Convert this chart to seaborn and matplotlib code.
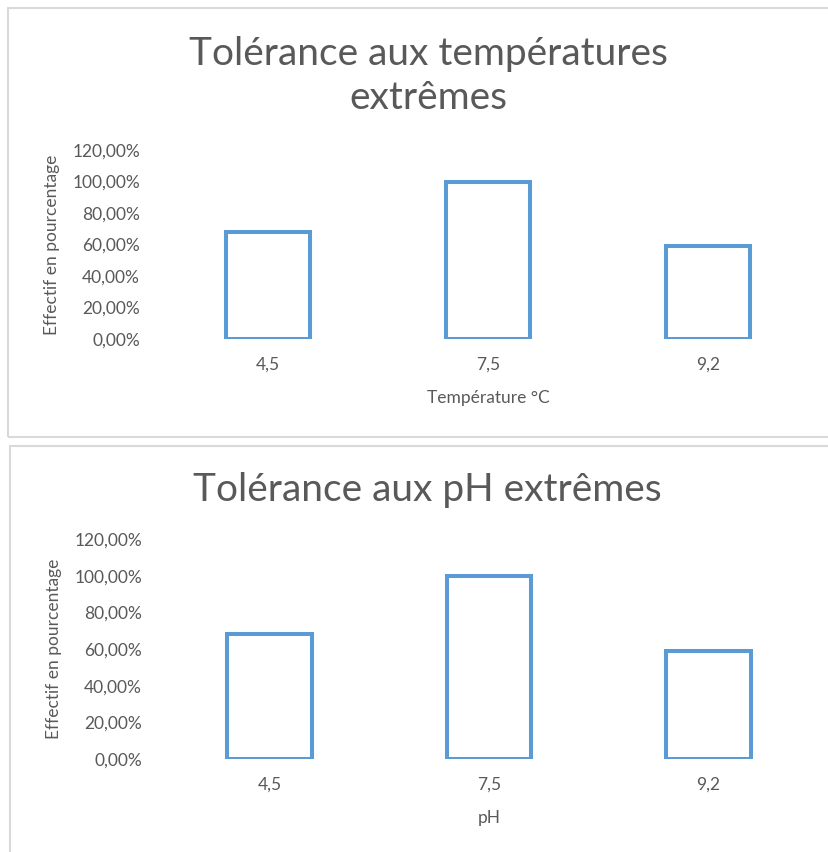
import matplotlib.pyplot as plt
import pandas as pd
import seaborn as sns
from matplotlib.patches import Rectangle

# values
categories = ["4,5", "7,5", "9,2"]
temperature_values = [0.68, 1.00, 0.59]
ph_values = [0.68, 1.00, 0.59]
y_ticks = [0.0, 0.2, 0.4, 0.6, 0.8, 1.0, 1.2]

BAR_COLOR = "#5b9bd5"
TEXT_COLOR = "#595959"
BORDER_COLOR = "#d9d9d9"


def pct_label(v: float) -> str:
    return f"{v * 100:.2f}%".replace(".", ",")


def draw_panel(fig, rect, values, title, xlabel, title_xy):
    ax = fig.add_axes(rect)
    data = pd.DataFrame({"cat": categories, "value": values})
    sns.barplot(
        data=data, x="cat", y="value", ax=ax, fill=False,
        color=BAR_COLOR, linewidth=2.9, width=0.385, errorbar=None,
    )
    for patch in ax.patches:
        patch.set_edgecolor(BAR_COLOR)
    ax.set_ylim(0, 1.2)
    ax.set_xlim(-0.5, 2.5)
    ax.set_yticks(y_ticks)
    ax.set_yticklabels([pct_label(v) for v in y_ticks])
    ax.tick_params(axis="y", length=0, pad=13, labelsize=12.5, labelcolor=TEXT_COLOR)
    ax.tick_params(axis="x", length=0, pad=13, labelsize=12.5, labelcolor=TEXT_COLOR)
    ax.set_xlabel(xlabel, fontsize=12.5, color=TEXT_COLOR, labelpad=12)
    ax.set_ylabel("Effectif en pourcentage", fontsize=12.5, color=TEXT_COLOR, labelpad=9)
    sns.despine(ax=ax, left=True, bottom=True)
    ax.set_facecolor("none")
    fig.text(title_xy[0], title_xy[1], title, ha="center", va="center",
             fontsize=28, color=TEXT_COLOR, linespacing=1.3)
    return ax


sns.set_theme(style="white")
plt.rcParams["font.family"] = ["Lato", "DejaVu Sans"]

W, H = 829, 852
fig = plt.figure(figsize=(W / 100, H / 100), dpi=100)
fig.patch.set_facecolor("white")

# chart frames
fig.add_artist(Rectangle((8 / W, 1 - 437 / H), (W - 6) / W, 429 / H,
                         transform=fig.transFigure, fill=False,
                         edgecolor=BORDER_COLOR, linewidth=1.5))
fig.add_artist(Rectangle((10 / W, 1 - 860 / H), (W - 8) / W, 414 / H,
                         transform=fig.transFigure, fill=False,
                         edgecolor=BORDER_COLOR, linewidth=1.5))

draw_panel(
    fig,
    [158 / W, 1 - 339 / H, 660 / W, 189 / H],
    temperature_values,
    "Tolérance aux températures\nextrêmes",
    "Température °C",
    (428 / W, 1 - 76 / H),
)
draw_panel(
    fig,
    [160 / W, 1 - 759 / H, 658 / W, 220 / H],
    ph_values,
    "Tolérance aux pH extrêmes",
    "pH",
    (427 / W, 1 - 490 / H),
)

fig.savefig("out.png", dpi=100)
